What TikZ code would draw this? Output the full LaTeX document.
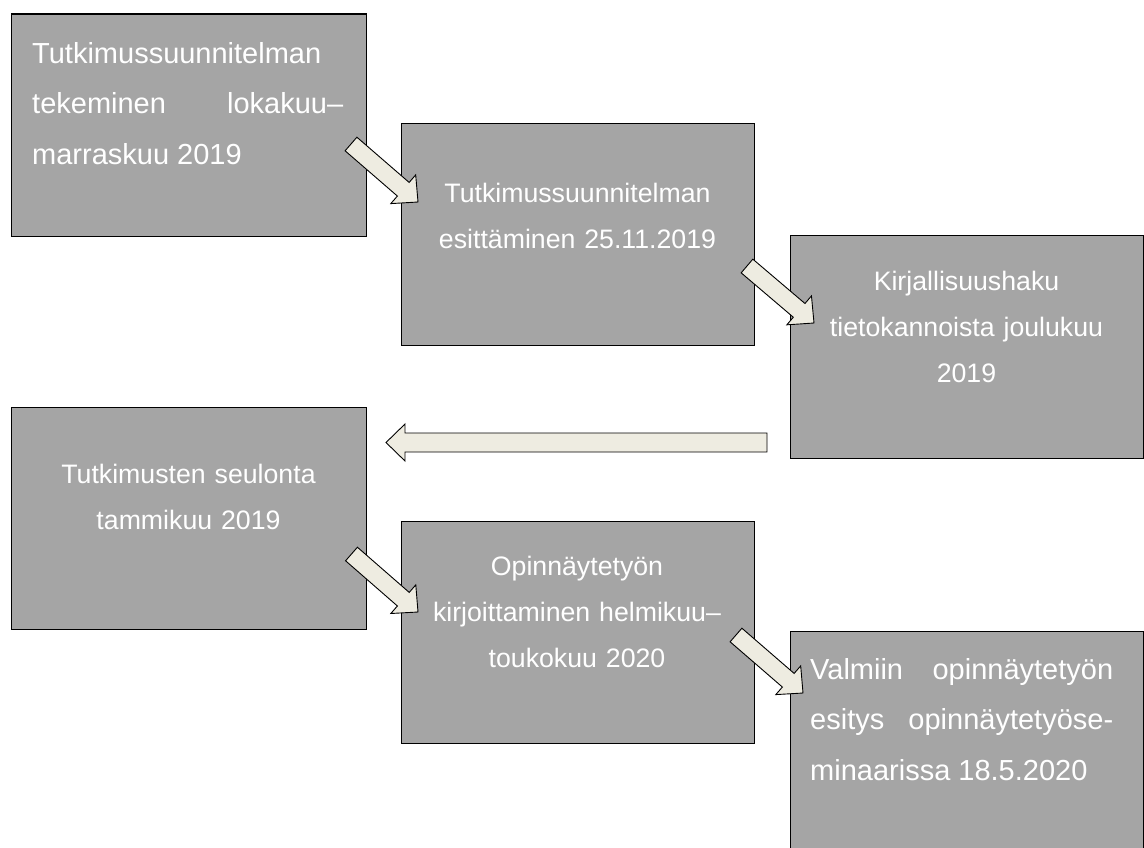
\documentclass[tikz,border=0pt]{standalone}
\usepackage{fontspec}
\setmainfont{Liberation Sans}
\usetikzlibrary{calc}
\definecolor{boxgray}{HTML}{A5A5A5}
\definecolor{arrowfill}{HTML}{EEECE1}
\newcommand{\bigtxt}{\fontsize{29}{50.5}\selectfont\parindent=0pt\hyphenpenalty=10000\exhyphenpenalty=10000\hbadness=10000}
\newcommand{\midtxt}{\fontsize{26.7}{46}\selectfont\parindent=0pt\hyphenpenalty=10000}
% block arrow from tail centre #1 to tip #2: shaft half-width #3, head half-width #4, head length #5
\newcommand{\blockarrow}[5]{%
  \coordinate (#1h) at ($(#2)!#5!(#1)$);
  \draw[barrow] ($(#1)!#3!90:(#2)$) -- ($(#1h)!#3!90:(#2)$) -- ($(#1h)!#4!90:(#2)$) -- (#2)
    -- ($(#1h)!#4!-90:(#2)$) -- ($(#1h)!#3!-90:(#2)$) -- ($(#1)!#3!-90:(#2)$) -- cycle;}
\begin{document}
\begin{tikzpicture}[x=1pt,y=-1pt,
  box/.style={draw=black, line width=1.2pt, fill=boxgray, anchor=north west, inner sep=0pt},
  txt/.style={text=white, inner sep=0pt},
  bigjust/.style={txt, anchor=base west, font=\bigtxt, align=justify},
  midcenter/.style={txt, anchor=base, font=\midtxt, align=center, text width=330pt},
  barrow/.style={draw=black, line width=0.9pt, fill=arrowfill, line join=miter}]
\useasboundingbox (0,0) rectangle (1144,847);
\clip (0,0) rectangle (1144,847);
% boxes
\node[box, minimum width=354.6pt, minimum height=222.7pt] (b1) at (11,13.3) {};
\node[box, minimum width=353pt, minimum height=222pt] (b2) at (401,123) {};
\node[box, minimum width=353pt, minimum height=223pt] (b3) at (790,235) {};
\node[box, minimum width=355pt, minimum height=222pt] (b4) at (11,407) {};
\node[box, minimum width=353.5pt, minimum height=222pt] (b5) at (400.5,521) {};
\node[box, minimum width=353pt, minimum height=240pt] (b6) at (790,631) {};
% texts
\node[bigjust, text width=311pt] (t1) at (32,63) {Tutkimussuunnitelman\linebreak tekeminen lokakuu–\linebreak marraskuu 2019};
\node[midcenter] (t2) at (577.5,202) {Tutkimussuunnitelman\\esittäminen 25.11.2019};
\node[midcenter] (t3) at (966.5,290) {Kirjallisuushaku\\tietokannoista joulukuu\\2019};
\node[midcenter] (t4) at (188.5,483) {Tutkimusten seulonta\\tammikuu 2019};
\node[midcenter] (t5) at (577,575) {Opinnäytetyön\\kirjoittaminen helmikuu–\\toukokuu 2020};
\node[bigjust, text width=303pt] (t6) at (810,679) {Valmiin opinnäytetyön\linebreak esitys opinnäytetyöse-\linebreak minaarissa 18.5.2020};
% arrows
\coordinate (a1s) at (351,144);   \coordinate (a1t) at (418,202);
\coordinate (a2s) at (747,266);   \coordinate (a2t) at (814,323);
\coordinate (a3s) at (351.5,554); \coordinate (a3t) at (418,612);
\coordinate (a4s) at (736,635);   \coordinate (a4t) at (803,693);
\coordinate (a5s) at (767,442.5); \coordinate (a5t) at (386,442.5);
\blockarrow{a1s}{a1t}{9pt}{19pt}{19.5pt}
\blockarrow{a2s}{a2t}{9pt}{19pt}{19.5pt}
\blockarrow{a3s}{a3t}{9pt}{19pt}{19.5pt}
\blockarrow{a4s}{a4t}{9pt}{19pt}{19.5pt}
\blockarrow{a5s}{a5t}{9.5pt}{18.5pt}{19pt}
\end{tikzpicture}
\end{document}
